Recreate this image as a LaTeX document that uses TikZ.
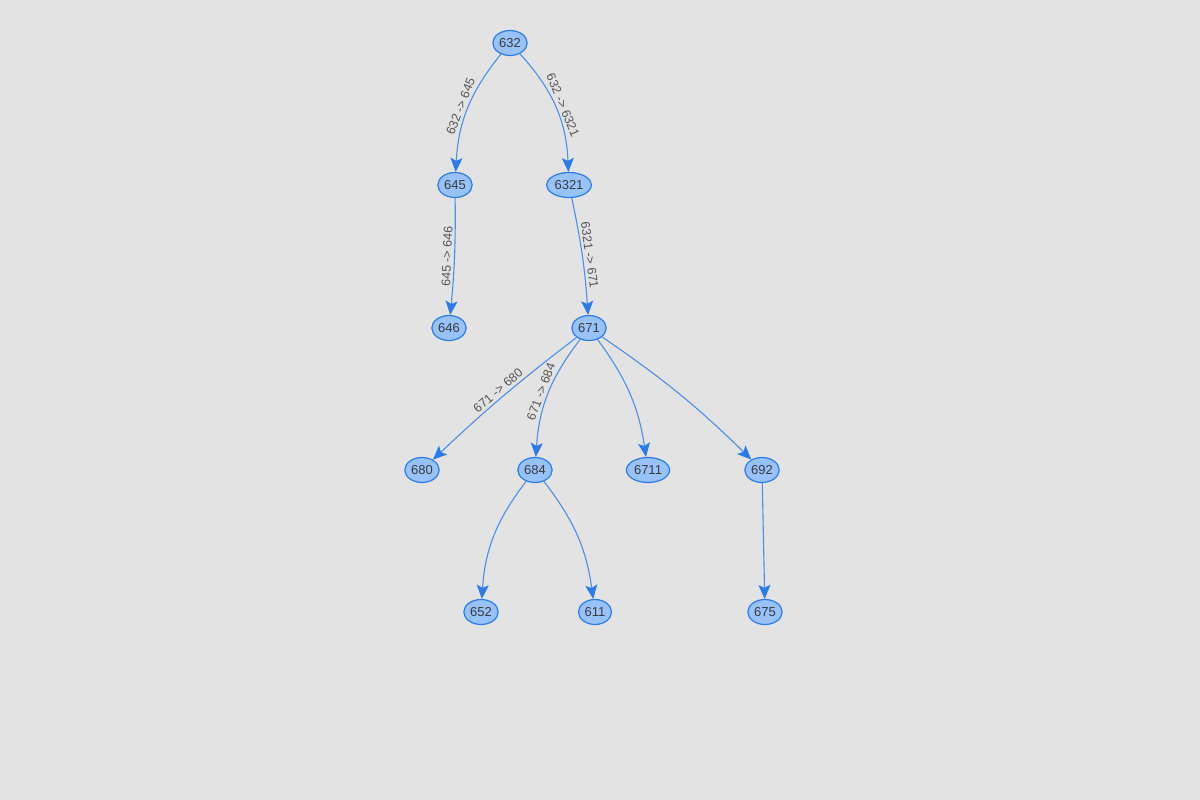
\documentclass[tikz,border=0pt]{standalone}
\usepackage{fontspec}
\setmainfont{Liberation Sans}
\usetikzlibrary{arrows.meta,shapes.geometric}
\definecolor{bg}{HTML}{E3E3E3}
\definecolor{nodefill}{HTML}{97C2FC}
\definecolor{nodeline}{HTML}{2B7CE9}
\definecolor{edgeline}{HTML}{4A8FEB}
\definecolor{nodetext}{HTML}{3A3A3A}
\definecolor{labeltext}{HTML}{555555}
\tikzset{
  vnode/.style={ellipse, draw=nodeline, fill=nodefill, line width=1.2pt,
    inner xsep=1.3pt, inner ysep=0pt, minimum height=25pt, text=nodetext,
    font=\fontsize{13}{13}\selectfont},
  vedge/.style={draw=edgeline, line width=1.1pt,
    -{Stealth[length=14pt,width=12pt,inset=3pt,color=nodeline]}},
  elabel/.style={midway, sloped, above, inner sep=2.5pt, text=labeltext,
    font=\fontsize{12.5}{12.5}\selectfont}
}
\begin{document}
\begin{tikzpicture}[x=1pt,y=-1pt]
\useasboundingbox (0,0) rectangle (1200,800);
\fill[bg] (0,0) rectangle (1200,800);
\node[vnode] (n632) at (510,43) {632};
\node[vnode] (n645) at (455,185) {645};
\node[vnode] (n6321) at (569,185) {6321};
\node[vnode] (n646) at (449,328) {646};
\node[vnode] (n671) at (589,328) {671};
\node[vnode] (n680) at (422,470) {680};
\node[vnode] (n684) at (535,470) {684};
\node[vnode] (n6711) at (648,470) {6711};
\node[vnode] (n692) at (762,470) {692};
\node[vnode] (n652) at (481,612) {652};
\node[vnode] (n611) at (595,612) {611};
\node[vnode] (n675) at (765,612) {675};

\draw[vedge] (n632) to[bend right=18] node[elabel] {632 -> 645} (n645);
\draw[vedge] (n632) to[bend left=20] node[elabel] {632 -> 6321} (n6321);
\draw[vedge] (n645) to[bend left=3] node[elabel] {645 -> 646} (n646);
\draw[vedge] (n6321) to[bend left=4] node[elabel] {6321 -> 671} (n671);
\draw[vedge] (n671) to[bend right=3] node[elabel] {671 -> 680} (n680);
\draw[vedge] (n671) to[bend right=17] node[elabel] {671 -> 684} (n684);
\draw[vedge] (n671) to[bend left=14] (n6711);
\draw[vedge] (n671) to[bend left=5] (n692);
\draw[vedge] (n684) to[bend right=17] (n652);
\draw[vedge] (n684) to[bend left=15] (n611);
\draw[vedge] (n692) -- (n675);
\end{tikzpicture}
\end{document}
